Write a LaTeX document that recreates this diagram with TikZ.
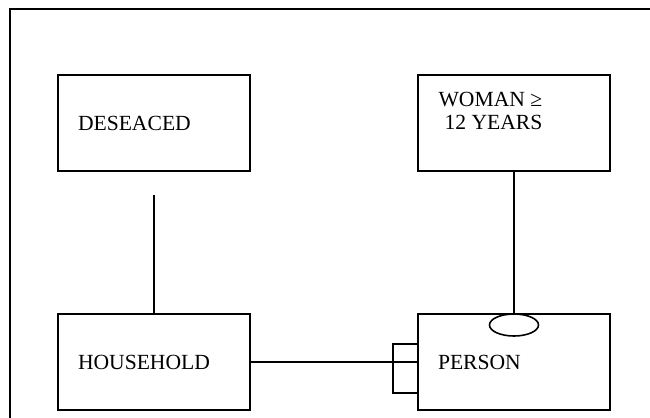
\documentclass[tikz,border=0pt]{standalone}
\usepackage{fontspec}
\setmainfont{Liberation Serif}
\usetikzlibrary{shapes.geometric,calc}
\tikzset{every node/.style={font=\fontsize{10.8}{11.5}\selectfont},entity/.style={draw,line width=.8pt,minimum width=96pt,minimum height=48pt,inner xsep=10pt,text width=76pt,align=left},link/.style={line width=.8pt}}

\begin{document}
\begin{tikzpicture}[x=.5pt,y=-.5pt]
\useasboundingbox (0,0) rectangle (650,418);
\draw[line width=.8pt] (10,422) |- (654,9);
\node[entity] (dec) at (154,123) {DESEACED};\node[entity] (woman) at (514,123) {};
\node[entity] (hh) at (154,362) {HOUSEHOLD};\node[entity] (per) at (514,362) {PERSON};
\node[anchor=base west,inner sep=0,align=left] (wlab) at ([shift={(10.5pt,-27.5pt)}]woman.north west) {WOMAN ≥\\\hspace{3pt}12 YEARS};
\coordinate (decend) at ([yshift=-11.5pt]dec.south);\draw[link] (decend)--(hh.north);
\draw[link] (hh.east)--(per.west);\draw[link] ([yshift=9pt]per.west)--++(-24,0)|-([yshift=-15.5pt]per.west);
\node[ellipse,draw,line width=.8pt,inner sep=0,minimum width=24.5pt,minimum height=11pt,anchor=north] (card) at (woman.south |- per.north) {};
\draw[link] (woman.south)--(card.north);
\end{tikzpicture}
\end{document}
